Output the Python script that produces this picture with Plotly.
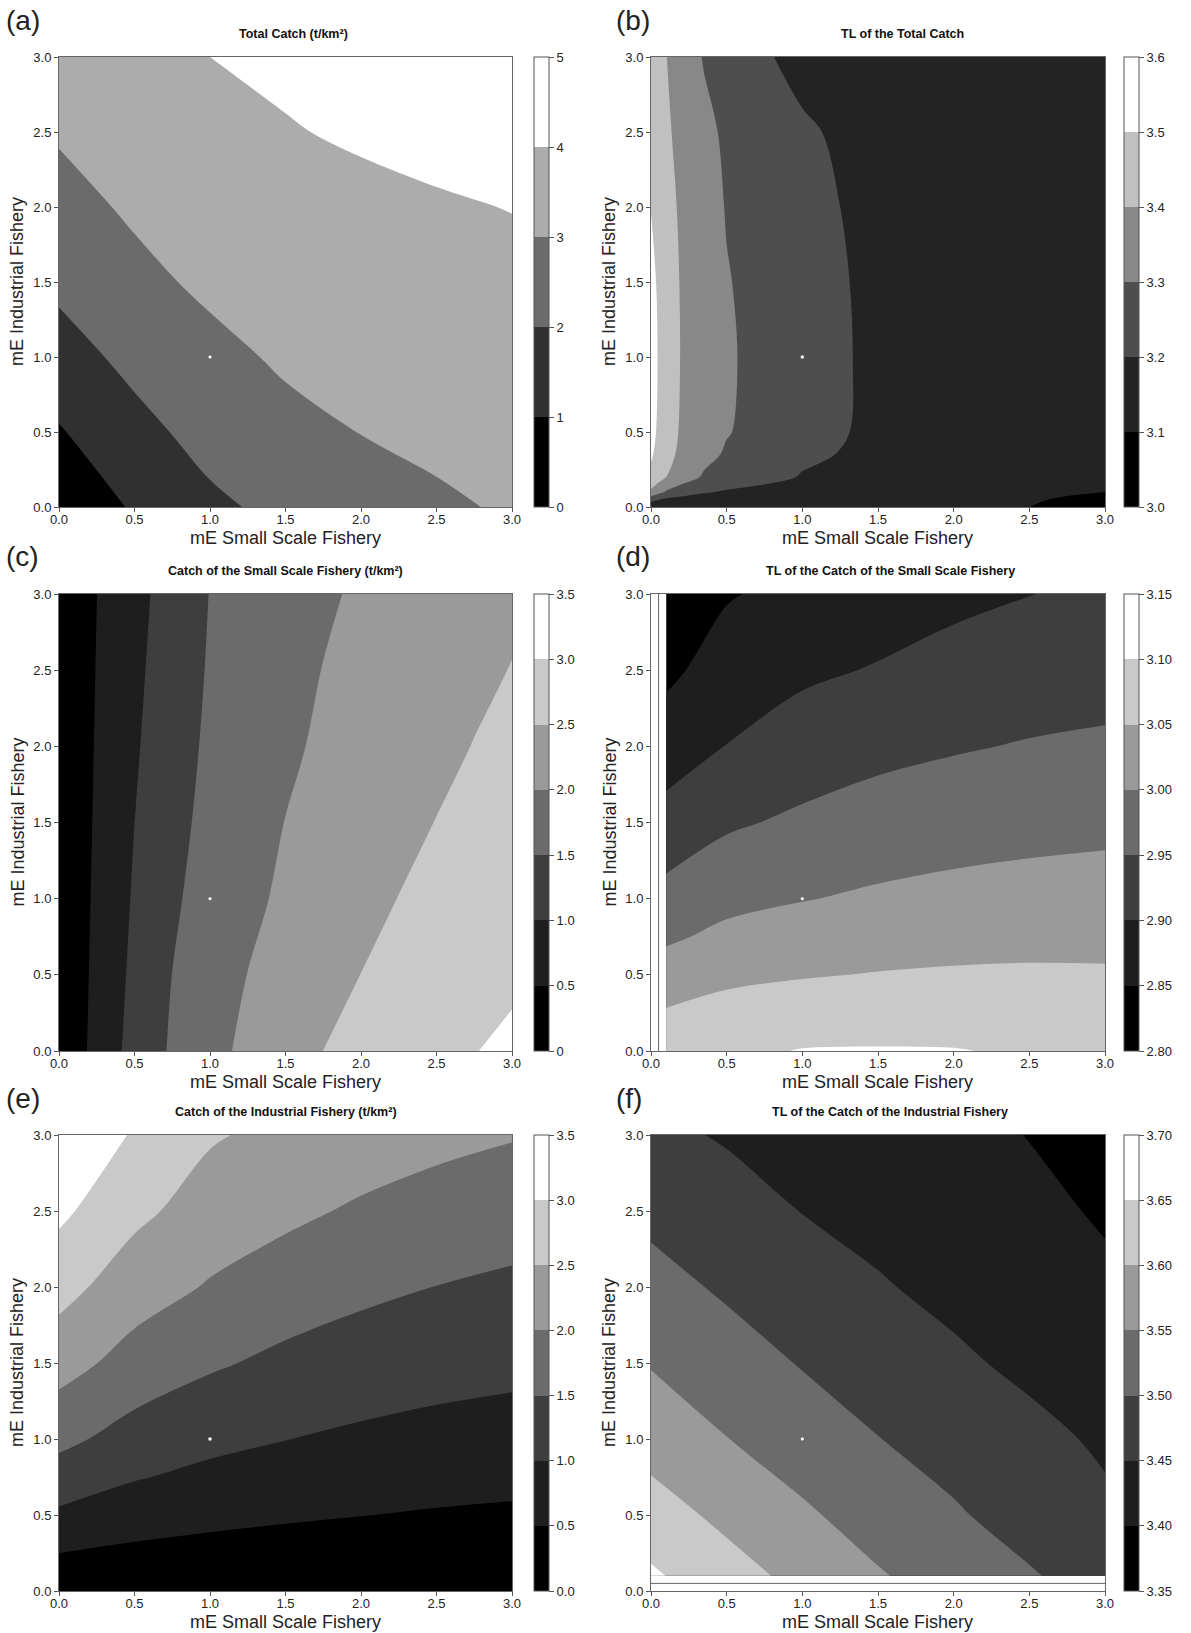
import plotly.graph_objects as go

# ------------------------------------------------------------------ data
grid_std = [0.0, 0.5, 1.0, 1.5, 2.0, 2.5, 3.0]

# (a) Total catch (t/km2): rows = mE industrial, cols = mE small scale
a_x = grid_std
a_y = grid_std
total_catch = [
    [0.00, 1.14, 1.83, 2.23, 2.50, 2.83, 3.12],
    [0.92, 1.74, 2.30, 2.70, 3.02, 3.25, 3.35],
    [1.65, 2.23, 2.71, 3.15, 3.30, 3.45, 3.60],
    [2.18, 2.73, 3.20, 3.40, 3.55, 3.68, 3.80],
    [2.65, 3.15, 3.45, 3.65, 3.80, 3.92, 4.02],
    [3.10, 3.40, 3.68, 3.95, 4.10, 4.22, 4.30],
    [3.45, 3.75, 4.00, 4.15, 4.27, 4.38, 4.47],
]

# (b) TL of the total catch
b_x = [0.0, 0.05, 0.1, 0.2, 0.35, 0.5, 0.75, 1.0, 1.5, 2.0, 2.5, 3.0]
b_y = [0.0, 0.05, 0.1, 0.2, 0.35, 0.5, 1.0, 1.5, 2.0, 2.5, 3.0]
tl_total = [
    [3.120, 3.115, 3.115, 3.115, 3.115, 3.115, 3.112, 3.110, 3.108, 3.105, 3.101, 3.030],
    [3.240, 3.205, 3.180, 3.165, 3.155, 3.150, 3.145, 3.140, 3.135, 3.125, 3.110, 3.070],
    [3.380, 3.330, 3.290, 3.255, 3.210, 3.190, 3.175, 3.165, 3.155, 3.145, 3.130, 3.100],
    [3.480, 3.440, 3.400, 3.345, 3.290, 3.260, 3.225, 3.195, 3.170, 3.155, 3.145, 3.130],
    [3.510, 3.475, 3.430, 3.380, 3.325, 3.290, 3.255, 3.215, 3.180, 3.165, 3.155, 3.145],
    [3.520, 3.490, 3.450, 3.388, 3.340, 3.305, 3.270, 3.225, 3.185, 3.170, 3.160, 3.150],
    [3.530, 3.495, 3.460, 3.395, 3.348, 3.310, 3.275, 3.230, 3.185, 3.172, 3.163, 3.155],
    [3.520, 3.490, 3.455, 3.392, 3.345, 3.305, 3.270, 3.225, 3.185, 3.175, 3.165, 3.155],
    [3.498, 3.470, 3.435, 3.385, 3.340, 3.295, 3.260, 3.215, 3.185, 3.170, 3.160, 3.150],
    [3.480, 3.455, 3.415, 3.373, 3.323, 3.285, 3.250, 3.207, 3.180, 3.165, 3.155, 3.145],
    [3.450, 3.425, 3.402, 3.355, 3.294, 3.264, 3.205, 3.185, 3.170, 3.155, 3.145, 3.135],
]

# (c) Catch of the small scale fishery (t/km2)
c_x = [0.0, 0.25, 0.5, 0.75, 1.0, 1.25, 1.5, 1.75, 2.0, 2.25, 2.5, 2.75, 3.0]
c_y = grid_std
catch_ssf = [
    [0, 0.674, 1.167, 1.560, 1.857, 2.103, 2.302, 2.502, 2.621, 2.743, 2.864, 2.985, 3.107],
    [0, 0.633, 1.106, 1.504, 1.756, 2.006, 2.173, 2.340, 2.504, 2.606, 2.707, 2.809, 2.911],
    [0, 0.598, 1.051, 1.434, 1.682, 1.901, 2.079, 2.223, 2.367, 2.507, 2.594, 2.681, 2.769],
    [0, 0.568, 0.999, 1.368, 1.624, 1.818, 2.008, 2.135, 2.262, 2.389, 2.509, 2.586, 2.663],
    [0, 0.542, 0.945, 1.307, 1.579, 1.753, 1.926, 2.065, 2.178, 2.291, 2.405, 2.511, 2.579],
    [0, 0.519, 0.898, 1.250, 1.542, 1.700, 1.857, 2.009, 2.111, 2.213, 2.316, 2.418, 2.512],
    [0, 0.498, 0.856, 1.197, 1.512, 1.656, 1.799, 1.943, 2.056, 2.150, 2.243, 2.336, 2.429],
]

# (d) TL of the catch of the small scale fishery (undefined at mE small = 0)
d_x = [0.1, 0.5, 1.0, 1.5, 2.0, 2.5, 3.0]
d_y = [0.0, 0.25, 0.5, 0.75, 1.0, 1.5, 2.0, 2.5, 3.0]
tl_ssf = [
    [3.080, 3.090, 3.102, 3.103, 3.102, 3.095, 3.090],
    [3.054, 3.067, 3.074, 3.078, 3.078, 3.075, 3.073],
    [3.0225, 3.039, 3.047, 3.052, 3.055, 3.056, 3.055],
    [2.9925, 3.011, 3.023, 3.029, 3.034, 3.037, 3.038],
    [2.966, 2.987, 2.998, 3.007, 3.014, 3.018, 3.021],
    [2.917, 2.943, 2.959, 2.971, 2.978, 2.984, 2.988],
    [2.876, 2.901, 2.922, 2.937, 2.946, 2.953, 2.958],
    [2.839, 2.873, 2.892, 2.903, 2.915, 2.925, 2.929],
    [2.801, 2.846, 2.865, 2.878, 2.890, 2.899, 2.910],
]
d_line_x = 0.05

# (e) Catch of the industrial fishery (t/km2)
e_x = grid_std
e_y = [0.0, 0.25, 0.5, 0.75, 1.0, 1.5, 2.0, 2.5, 3.0]
catch_ind = [
    [0.000, 0.000, 0.000, 0.000, 0.000, 0.000, 0.000],
    [0.502, 0.403, 0.338, 0.291, 0.255, 0.231, 0.216],
    [0.917, 0.732, 0.633, 0.563, 0.508, 0.463, 0.431],
    [1.286, 1.033, 0.888, 0.786, 0.713, 0.659, 0.621],
    [1.625, 1.304, 1.125, 1.008, 0.918, 0.848, 0.800],
    [2.200, 1.808, 1.563, 1.392, 1.270, 1.185, 1.126],
    [2.672, 2.231, 1.960, 1.754, 1.605, 1.494, 1.414],
    [3.103, 2.615, 2.281, 2.106, 1.934, 1.810, 1.719],
    [3.450, 2.950, 2.550, 2.370, 2.263, 2.127, 2.031],
]

# (f) TL of the catch of the industrial fishery (undefined at mE industrial = 0)
f_x = grid_std
f_y = [0.1, 0.5, 1.0, 1.5, 2.0, 2.5, 3.0]
tl_ind = [
    [3.657, 3.620, 3.586, 3.554, 3.529, 3.504, 3.480],
    [3.622, 3.588, 3.557, 3.530, 3.505, 3.482, 3.459],
    [3.580, 3.551, 3.526, 3.501, 3.482, 3.463, 3.443],
    [3.547, 3.522, 3.497, 3.478, 3.458, 3.440, 3.422],
    [3.517, 3.493, 3.474, 3.454, 3.438, 3.422, 3.407],
    [3.488, 3.468, 3.449, 3.436, 3.423, 3.409, 3.396],
    [3.460, 3.446, 3.435, 3.423, 3.411, 3.399, 3.387],
]
f_line_y = 0.05

# current (reference) effort point
ref_x = [1.0]
ref_y = [1.0]

axis_ticks = [0.0, 0.5, 1.0, 1.5, 2.0, 2.5, 3.0]
axis_ticktext = ["0.0", "0.5", "1.0", "1.5", "2.0", "2.5", "3.0"]

panels = [
    dict(tag="(a)", title="Total Catch (t/km²)", x=a_x, y=a_y, z=total_catch,
         levels=[0, 1, 2, 3, 4, 5], labels=["0", "1", "2", "3", "4", "5"], toff=8),
    dict(tag="(b)", title="TL of the Total Catch", x=b_x, y=b_y, z=tl_total,
         levels=[3.0, 3.1, 3.2, 3.3, 3.4, 3.5, 3.6],
         labels=["3.0", "3.1", "3.2", "3.3", "3.4", "3.5", "3.6"], toff=24),
    dict(tag="(c)", title="Catch of the Small Scale Fishery (t/km²)", x=c_x, y=c_y, z=catch_ssf,
         levels=[0, 0.5, 1.0, 1.5, 2.0, 2.5, 3.0, 3.5],
         labels=["0", "0.5", "1.0", "1.5", "2.0", "2.5", "3.0", "3.5"], toff=0),
    dict(tag="(d)", title="TL of the Catch of the Small Scale Fishery", x=d_x, y=d_y, z=tl_ssf,
         levels=[2.80, 2.85, 2.90, 2.95, 3.00, 3.05, 3.10, 3.15],
         labels=["2.80", "2.85", "2.90", "2.95", "3.00", "3.05", "3.10", "3.15"], toff=12),
    dict(tag="(e)", title="Catch of the Industrial Fishery (t/km²)", x=e_x, y=e_y, z=catch_ind,
         levels=[0, 0.5, 1.0, 1.5, 2.0, 2.5, 3.0, 3.5],
         labels=["0.0", "0.5", "1.0", "1.5", "2.0", "2.5", "3.0", "3.5"], toff=0),
    dict(tag="(f)", title="TL of the Catch of the Industrial Fishery", x=f_x, y=f_y, z=tl_ind,
         levels=[3.35, 3.40, 3.45, 3.50, 3.55, 3.60, 3.65, 3.70],
         labels=["3.35", "3.40", "3.45", "3.50", "3.55", "3.60", "3.65", "3.70"], toff=12),
]

band_greys = {
    5: ["#000000", "#303030", "#6b6b6b", "#acacac", "#ffffff"],
    6: ["#000000", "#232323", "#4e4e4e", "#888888", "#c0c0c0", "#ffffff"],
    7: ["#000000", "#1e1e1e", "#3e3e3e", "#6b6b6b", "#9a9a9a", "#c9c9c9", "#ffffff"],
}

# ------------------------------------------------------------------ layout geometry (pixels)
W, H = 1191, 1633
col_x = [(59, 512), (651, 1105)]
cbar_x = [534, 1124]
tag_x = [4, 614]
row_y = [(57, 507), (594, 1051), (1135, 1591)]


def px(v):
    return v / W


def py(v):
    return 1 - v / H


def step_scale(cols):
    n = len(cols)
    sc = []
    for i, c in enumerate(cols):
        sc.append([i / n, c])
        sc.append([(i + 1) / n, c])
    return sc


FONT = "Liberation Sans, Arial, sans-serif"
fig = go.Figure()
annotations = []
shapes = []

for k, p in enumerate(panels):
    r, c = divmod(k, 2)
    n = "" if k == 0 else str(k + 1)
    xa, ya = "x" + n, "y" + n
    x0, x1 = col_x[c]
    y0, y1 = row_y[r]
    lv = p["levels"]
    step = lv[1] - lv[0]
    nb = len(lv) - 1
    fig.add_trace(go.Contour(
        x=p["x"], y=p["y"], z=p["z"], xaxis=xa, yaxis=ya,
        zmin=lv[0], zmax=lv[-1], zauto=False,
        autocontour=False,
        contours=dict(start=lv[1], end=lv[-2], size=step, coloring="fill", showlines=False),
        line=dict(width=0),
        colorscale=step_scale(band_greys[nb]),
        hoverinfo="skip",
        colorbar=dict(
            x=px(cbar_x[c]), xanchor="left", xpad=0, xref="paper",
            y=py((y0 + y1) / 2), yanchor="middle", ypad=0, yref="paper",
            len=(y1 - y0) / H, lenmode="fraction",
            thickness=15, thicknessmode="pixels",
            outlinewidth=1, outlinecolor="#555555",
            ticks="outside", ticklen=5, tickwidth=1, tickcolor="#555555",
            tickmode="array", tickvals=lv, ticktext=p["labels"],
            tickfont=dict(family=FONT, size=13, color="#222222"),
        ),
    ))
    fig.add_trace(go.Scatter(
        x=ref_x, y=ref_y, xaxis=xa, yaxis=ya, mode="markers",
        marker=dict(size=4, color="white", line=dict(color="#444444", width=0.6)),
        hoverinfo="skip", showlegend=False,
    ))
    common = dict(
        range=[0, 3], tickmode="array", tickvals=axis_ticks, ticktext=axis_ticktext,
        ticks="outside", ticklen=4, tickwidth=1, tickcolor="#555555",
        showline=True, linecolor="#666666", linewidth=1, mirror=True,
        showgrid=False, zeroline=False, automargin=False,
        tickfont=dict(family=FONT, size=13, color="#222222"),
    )
    fig.layout["xaxis" + n] = dict(common, domain=[px(x0), px(x1)], anchor=ya, ticklabelstandoff=-4)
    fig.layout["yaxis" + n] = dict(common, domain=[py(y1), py(y0)], anchor=xa)

    # panel letter
    annotations.append(dict(text=p["tag"], x=px(tag_x[c]), y=py(y0 - 37), xref="paper", yref="paper",
                            xanchor="left", yanchor="middle", showarrow=False,
                            font=dict(family=FONT, size=28, color="#222222")))
    # title
    annotations.append(dict(text="<b>" + p["title"] + "</b>", x=px((x0 + x1) / 2 + p["toff"]),
                            y=py(y0 - 23), xref="paper", yref="paper", xanchor="center",
                            yanchor="middle", showarrow=False,
                            font=dict(family=FONT, size=12.5, color="#111111")))
    # axis titles
    annotations.append(dict(text="mE Small Scale Fishery", x=px((x0 + x1) / 2), y=py(y1 + 30.5),
                            xref="paper", yref="paper", xanchor="center", yanchor="middle",
                            showarrow=False, font=dict(family=FONT, size=18, color="#222222")))
    annotations.append(dict(text="mE Industrial Fishery", x=px(x0 - 42), y=py((y0 + y1) / 2),
                            xref="paper", yref="paper", xanchor="center", yanchor="middle",
                            textangle=-90, showarrow=False,
                            font=dict(family=FONT, size=18, color="#222222")))

# edge lines of the undefined strips in (d) and (f)
shapes.append(dict(type="line", xref="x4", yref="y4", x0=d_line_x, x1=d_line_x, y0=0, y1=3,
                   line=dict(color="#666666", width=1)))
shapes.append(dict(type="line", xref="x6", yref="y6", x0=0, x1=3, y0=f_line_y, y1=f_line_y,
                   line=dict(color="#666666", width=1)))

fig.update_layout(
    width=W, height=H, margin=dict(l=0, r=0, t=0, b=0, autoexpand=False),
    paper_bgcolor="white", plot_bgcolor="white",
    showlegend=False, annotations=annotations, shapes=shapes,
)

fig.write_html("out.html", config={"displayModeBar": False},
               post_script="document.body.style.margin='0px';")
